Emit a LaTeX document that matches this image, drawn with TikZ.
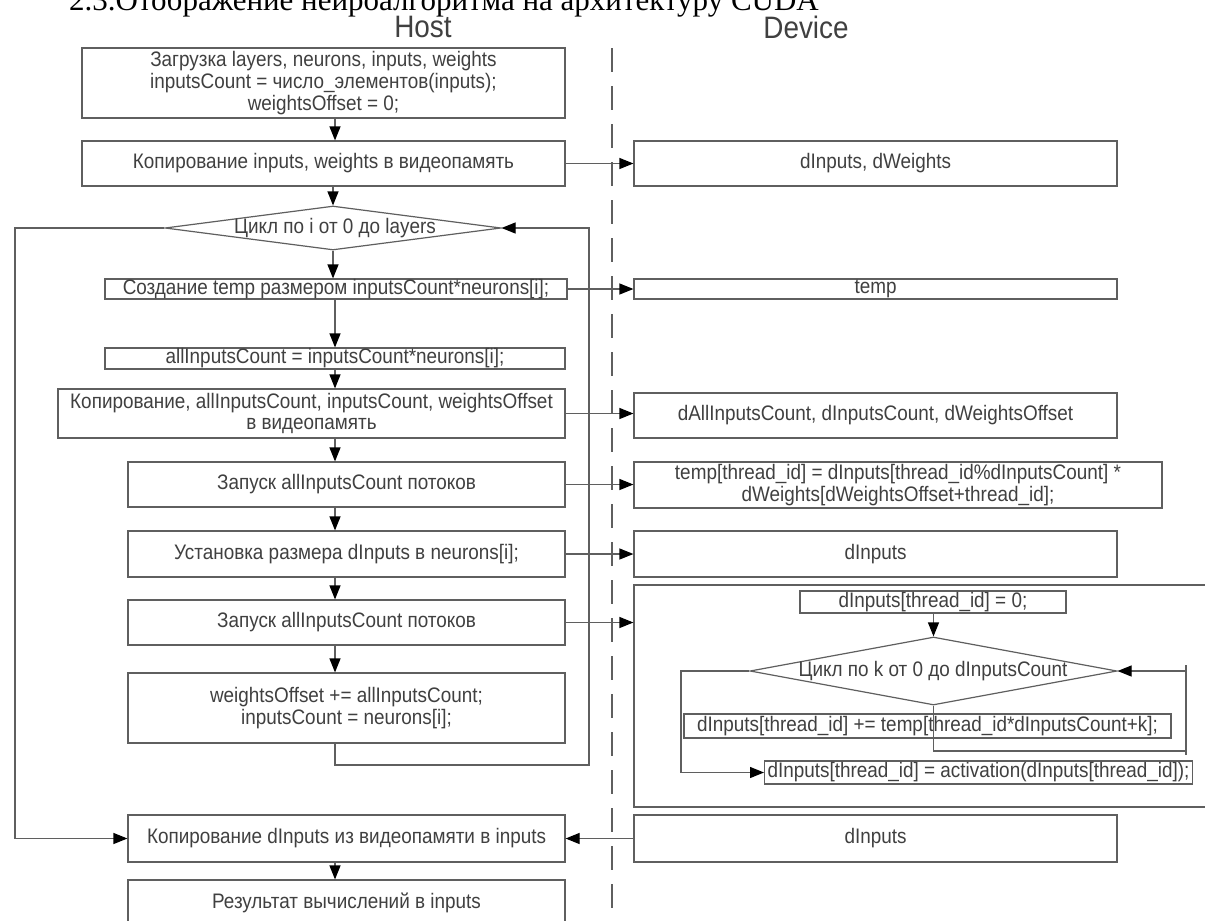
\documentclass[tikz,border=0pt]{standalone}
\usepackage{fontspec}
\setmainfont{Liberation Sans}[FakeStretch=0.9]
\newfontfamily\headfont{Liberation Serif}
\usetikzlibrary{shapes.geometric,arrows.meta}
\definecolor{lc}{HTML}{5F5F5F}
\definecolor{tc}{HTML}{404040}
\begin{document}
\begin{tikzpicture}[x=1pt,y=-1pt,
  box/.style={draw=lc, line width=1.2pt, rectangle, inner sep=0pt, align=center,
    font=\fontsize{21}{21.7}\selectfont, text=tc},
  txt/.style={inner sep=0pt, align=center, font=\fontsize{21}{21.7}\selectfont, text=tc},
  dia/.style={draw=lc, line width=1.2pt, diamond, inner sep=0pt},
  ln/.style={draw=lc, line width=1.2pt},
  arr/.style={draw=lc, line width=1.2pt, -{Triangle[length=14pt,width=11pt,color=black,fill=black]}},
  ttl/.style={inner sep=0pt, font=\fontsize{31}{31}\selectfont, text=tc}]
\useasboundingbox (0,0) rectangle (1205,921);
\clip (0,0) rectangle (1205,921);
\fill[white] (0,0) rectangle (1205,921);

% heading (cut off at the top)
\node[anchor=base west, inner sep=0pt, font=\headfont\fontsize{31}{31}\selectfont] (head) at (69,10) {2.3.Отображение нейроалгоритма на архитектуру CUDA};
\node[ttl] (host) at (423,27) {Host};
\node[ttl] (dev) at (806,27) {Device};

% divider
\coordinate (dvt) at (612,48);
\coordinate (dvb) at (612,921);
\draw[draw=lc, line width=1.2pt, dash pattern=on 24pt off 14pt] (dvt) -- (dvb);

% host column
\coordinate (sp) at (335,0);
\node[box, minimum width=483pt, minimum height=70pt] (b1) at (323.5,83) {Загрузка layers, neurons, inputs, weights\\inputsCount = число\_элементов(inputs);\\weightsOffset = 0;};
\node[box, minimum width=483pt, minimum height=45pt] (b2) at (323.5,163.5) {Копирование inputs, weights в видеопамять};
\node[dia, minimum width=336pt, minimum height=44pt] (d1) at (333,228) {};
\node[txt] (d1t) at (335,228) {Цикл по i от 0 до layers};
\node[box, minimum width=462pt, minimum height=20pt] (b3) at (336,289) {Создание temp размером inputsCount*neurons[i];};
\node[box, minimum width=460pt, minimum height=21pt] (b4) at (335,358.5) {allInputsCount = inputsCount*neurons[i];};
\node[box, minimum width=507pt, minimum height=49pt] (b5) at (311.5,413.5) {Копирование, allInputsCount, inputsCount, weightsOffset\\в видеопамять};
\node[box, minimum width=437pt, minimum height=45pt] (b6) at (346.5,484.5) {Запуск allInputsCount потоков};
\node[box, minimum width=437pt, minimum height=46pt] (b7) at (346.5,554) {Установка размера dInputs в neurons[i];};
\node[box, minimum width=437pt, minimum height=45pt] (b8) at (346.5,622.5) {Запуск allInputsCount потоков};
\node[box, minimum width=437pt, minimum height=70pt] (b9) at (346.5,708) {weightsOffset += allInputsCount;\\inputsCount = neurons[i];};
\node[box, minimum width=437pt, minimum height=47pt] (b10) at (346.5,838.5) {Копирование dInputs из видеопамяти в inputs};
\node[box, minimum width=437pt, minimum height=46pt] (b11) at (346.5,903) {Результат вычислений в inputs};

% device column
\node[box, minimum width=483pt, minimum height=45pt] (c1) at (875.5,163.5) {dInputs, dWeights};
\node[box, minimum width=483pt, minimum height=20pt] (c2) at (875.5,289) {temp};
\node[box, minimum width=483pt, minimum height=45pt] (c3) at (875.5,415.5) {dAllInputsCount, dInputsCount, dWeightsOffset};
\node[box, minimum width=528pt, minimum height=46pt] (c4) at (898,485) {temp[thread\_id] = dInputs[thread\_id\%dInputsCount] *\\dWeights[dWeightsOffset+thread\_id];};
\node[box, minimum width=483pt, minimum height=46pt] (c5) at (875.5,554) {dInputs};
\node[box, minimum width=581pt, minimum height=222pt] (big) at (924.5,696) {};
\node[box, minimum width=483pt, minimum height=47pt] (c6) at (875.5,838.5) {dInputs};

% kernel inner flow
\node[box, minimum width=266pt, minimum height=22pt] (i1) at (933,602) {dInputs[thread\_id] = 0;};
\node[dia, minimum width=367pt, minimum height=68pt] (d2) at (933.5,671) {};
\node[txt] (d2t) at (933,671) {Цикл по k от 0 до dInputsCount};
\node[box, minimum width=487pt, minimum height=24pt] (i2) at (927.5,726) {dInputs[thread\_id] += temp[thread\_id*dInputsCount+k];};
\node[box, anchor=west, inner xsep=3pt, minimum height=23pt] (i3) at (764,772.5) {dInputs[thread\_id] = activation(dInputs[thread\_id]);};

% host spine arrows
\draw[arr] (b1.south -| sp) -- (b2.north -| sp);
\draw[arr] (b2.south -| d1.north) -- (d1.north);
\draw[arr] (d1.south) -- (b3.north -| d1.south);
\draw[arr] (b3.south -| sp) -- (b4.north -| sp);
\draw[arr] (b4.south -| sp) -- (b5.north -| sp);
\draw[arr] (b5.south -| sp) -- (b6.north -| sp);
\draw[arr] (b6.south -| sp) -- (b7.north -| sp);
\draw[arr] (b7.south -| sp) -- (b8.north -| sp);
\draw[arr] (b8.south -| sp) -- (b9.north -| sp);
\draw[arr] (b10.south -| sp) -- (b11.north -| sp);

% host loop
\coordinate (lpb) at (335,765);
\coordinate (lpr) at (589,765);
\draw[arr] (b9.south -| sp) -- (lpb) -- (lpr) -- (lpr |- d1.east) -- (d1.east);
\coordinate (lpl) at (15,228);
\draw[arr] (d1.west) -- (lpl) -- (lpl |- b10.west) -- (b10.west);

% host -> device
\draw[arr] (b2.east) -- (c1.west);
\draw[arr] (b3.east) -- (c2.west);
\draw[arr] (b5.east) -- (b5.east -| c3.west);
\draw[arr] (b6.east) -- (b6.east -| c4.west);
\draw[arr] (b7.east) -- (b7.east -| c5.west);
\draw[arr] (b8.east) -- (b8.east -| big.west);
\draw[arr] (c6.west) -- (b10.east);

% kernel arrows
\draw[arr] (i1.south -| d2.north) -- (d2.north);
\coordinate (kl) at (681,671);
\draw[arr] (d2.west) -- (kl) -- (kl |- i3.west) -- (i3.west);
\coordinate (kb) at (933.5,751);
\coordinate (kr) at (1186,751);
\coordinate (krt) at (1186,665);
\coordinate (krb) at (1186,755);
\draw[ln] (d2.south) -- (kb) -- (kr);
\draw[ln] (krt) -- (krb);
\draw[arr] (kr |- d2.east) -- (d2.east);
\end{tikzpicture}
\end{document}
